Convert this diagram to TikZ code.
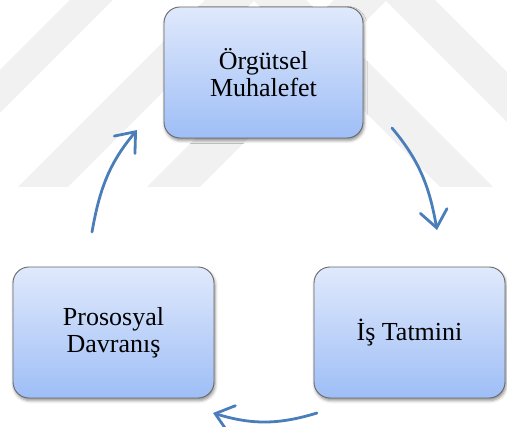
\documentclass[tikz,border=0pt]{standalone}
\usepackage{fontspec}
\setmainfont{Liberation Serif}
\usetikzlibrary{arrows.meta,shadows.blur}
\definecolor{boxtop}{RGB}{224,233,252}
\definecolor{boxbot}{RGB}{158,190,246}
\definecolor{boxline}{RGB}{105,105,105}
\definecolor{cycleblue}{RGB}{74,126,187}
\definecolor{markgray}{RGB}{241,241,241}
\begin{document}
\begin{tikzpicture}[x=1pt,y=1pt,
  stage/.style={draw=boxline, line width=0.9pt, rounded corners=16pt,
    top color=boxtop, bottom color=boxbot, minimum height=131pt,
    inner sep=0pt, align=center, font=\fontsize{26}{27}\selectfont,
    blur shadow={shadow xshift=1pt, shadow yshift=-2.5pt,
      shadow blur radius=3pt, shadow opacity=45}},
  cyclearrow/.style={draw=cycleblue, line width=2.8pt, line cap=round,
    -{Straight Barb[length=17pt,width=27pt,line cap=round]}}]
\useasboundingbox (0,0) rectangle (507,-427);

% faint chevron bands in the background
\begin{scope}
  \clip (0,0) rectangle (507,-427);
  \fill[markgray] (70,0) -- (113,0) -- (0,-113) -- (0,-70) -- cycle;
  \fill[markgray] (205,0) -- (255,0) -- (68,-187) -- (18,-187) -- cycle;
  \fill[markgray] (334,0) -- (387,0) -- (200,-187) -- (147,-187) -- cycle;
  \fill[markgray] (253,0) -- (306,0) -- (493,-187) -- (440,-187) -- cycle;
  \fill[markgray] (385,0) -- (435,0) -- (622,-187) -- (572,-187) -- cycle;
\end{scope}

% the three stages of the cycle
\node[stage, minimum width=199pt] (org) at (263.5,-72.5) {Örgütsel\\Muhalefet};
\node[stage, minimum width=191pt] (tat) at (409.5,-332.5) {İş Tatmini};
\node[stage, minimum width=201pt] (pro) at (113.5,-332.5) {Prososyal\\Davranış};

% curved arrows between the stages
\coordinate (orgout) at (392,-128);
\coordinate (tatin)  at (437,-230);
\coordinate (tatout) at (317,-413);
\coordinate (proin)  at (213,-413);
\coordinate (proout) at (92,-232);
\coordinate (orgin)  at (137,-130);

\draw[cyclearrow] (orgout) to[out=-50,in=100] (tatin);
\draw[cyclearrow] (tatout) to[out=-163,in=-17] (proin);
\draw[cyclearrow] (proout) to[out=80,in=-130] (orgin);
\end{tikzpicture}
\end{document}
